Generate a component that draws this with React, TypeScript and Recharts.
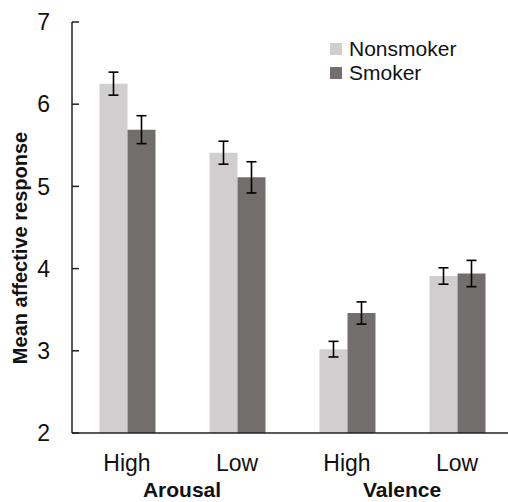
import React from 'react'
import { BarChart, Bar, XAxis, YAxis, ErrorBar, Legend } from 'recharts'

const categories = ['High', 'Low', 'High', 'Low']
const groups = ['Arousal', 'Arousal', 'Valence', 'Valence']
const nonsmoker = [6.25, 5.41, 3.02, 3.91]
const nonsmokerErr = [0.14, 0.14, 0.095, 0.1]
const smoker = [5.69, 5.11, 3.46, 3.94]
const smokerErr = [0.17, 0.19, 0.135, 0.16]
const yTicks = [2, 3, 4, 5, 6, 7]

const NS_COLOR = '#d0cecf'
const SM_COLOR = '#726e6e'
const TEXT = '#111'

const data = categories.map((c, i) => ({
  key: `${groups[i]}-${c}`,
  nonsmoker: nonsmoker[i],
  nonsmokerErr: nonsmokerErr[i],
  smoker: smoker[i],
  smokerErr: smokerErr[i],
}))

function CategoryTick(props: any) {
  const { x, y, payload } = props
  const i = payload.index
  return (
    <g>
      <text x={x} y={y + 38} textAnchor="middle" fontSize={23} fill={TEXT}>
        {categories[i]}
      </text>
      {i % 2 === 0 && (
        <text x={x + 55} y={y + 64} textAnchor="middle" fontSize={21} fontWeight="bold" fill={TEXT}>
          {groups[i]}
        </text>
      )}
    </g>
  )
}

function LegendBox(props: any) {
  const { payload } = props
  return (
    <div>
      {payload.map((p: any) => (
        <div key={p.value} style={{ display: 'flex', alignItems: 'center', height: 24, fontSize: 21, color: TEXT }}>
          <span style={{ width: 12, height: 12, background: p.color, marginRight: 7, display: 'inline-block' }} />
          <span>{p.value}</span>
        </div>
      ))}
    </div>
  )
}

export default function App() {
  return (
    <div
      style={{
        position: 'absolute',
        left: 0,
        top: 0,
        width: 508,
        height: 502,
        overflow: 'hidden',
        background: '#fff',
        fontFamily: '"Liberation Sans", Arial, sans-serif',
      }}
    >
      <BarChart
        width={512}
        height={502}
        data={data}
        margin={{ top: 22, right: 0, bottom: 0, left: 0 }}
        barCategoryGap="25%"
        barGap={0}
      >
        <XAxis
          dataKey="key"
          height={69}
          tickLine={false}
          tickSize={0}
          tickMargin={0}
          axisLine={{ stroke: '#222', strokeWidth: 1.5 }}
          tick={<CategoryTick />}
          interval={0}
        />
        <YAxis
          width={72}
          domain={[2, 7]}
          ticks={yTicks}
          type="number"
          allowDataOverflow
          tickSize={-7}
          tickMargin={29}
          axisLine={{ stroke: '#222', strokeWidth: 1.5 }}
          tickLine={{ stroke: '#222', strokeWidth: 1.5 }}
          tick={{ fontSize: 23, fill: TEXT }}
          label={{
            content: () => (
              <text
                x={27}
                y={248}
                transform="rotate(-90, 27, 248)"
                textAnchor="middle"
                fontSize={20}
                fontWeight="bold"
                fill={TEXT}
              >
                Mean affective response
              </text>
            ),
          }}
        />
        <Legend
          layout="horizontal"
          verticalAlign="middle"
          align="center"
          content={<LegendBox />}
          wrapperStyle={{ position: 'absolute', top: 37, left: 330, width: 160 }}
        />
        <Bar dataKey="nonsmoker" name="Nonsmoker" fill={NS_COLOR} isAnimationActive={false}>
          <ErrorBar dataKey="nonsmokerErr" width={5} stroke="#000" strokeWidth={1.6} isAnimationActive={false} />
        </Bar>
        <Bar dataKey="smoker" name="Smoker" fill={SM_COLOR} isAnimationActive={false}>
          <ErrorBar dataKey="smokerErr" width={5} stroke="#000" strokeWidth={1.6} isAnimationActive={false} />
        </Bar>
      </BarChart>
    </div>
  )
}
